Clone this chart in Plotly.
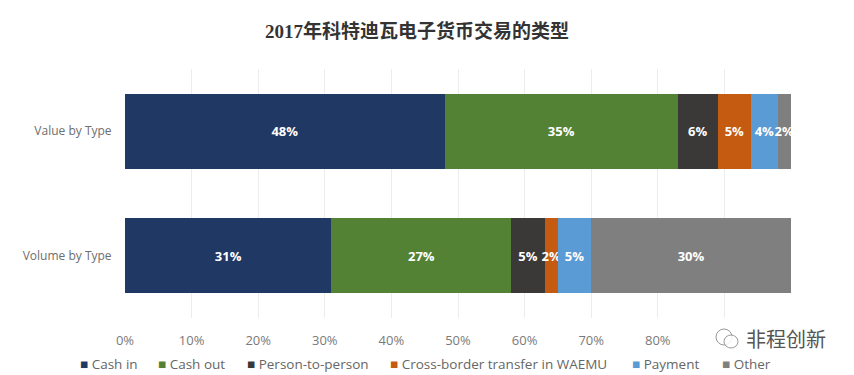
import plotly.graph_objects as go

categories = ["Value by Type", "Volume by Type"]
series_names = ["Cash in", "Cash out", "Person-to-person",
                "Cross-border transfer in WAEMU", "Payment", "Other"]
cash_in = [48, 31]
cash_out = [35, 27]
person_to_person = [6, 5]
cross_border = [5, 2]
payment = [4, 5]
other = [2, 30]
colors = ["#1f3864", "#548235", "#3b3838", "#c55a11", "#5b9bd5", "#7f7f7f"]
tick_values = [0, 10, 20, 30, 40, 50, 60, 70, 80]
tick_labels = ["0%", "10%", "20%", "30%", "40%", "50%", "60%", "70%", "80%"]
title_text = "2017年科特迪瓦电子货币交易的类型"
watermark = "非程创新"

# The page body adds an 8px margin, so the figure is 846x367 and sits at (8, 8).
W, H, OFF = 846, 367, 8
L, R, T, B = 125, 791, 69, 318   # plot area in window pixels
def px(x): return (x - L) / (R - L)
def py(y): return (B - y) / (B - T)

fig = go.Figure()
for name, vals, c in zip(series_names,
                         [cash_in, cash_out, person_to_person, cross_border, payment, other],
                         colors):
    fig.add_trace(go.Bar(
        y=categories, x=vals, name=name, orientation="h",
        marker=dict(color=c, line=dict(width=0)),
        text=[f"{v}%" for v in vals], textposition="inside",
        insidetextanchor="middle", constraintext="none", textangle=0,
        insidetextfont=dict(family="Open Sans, sans-serif", size=13, color="white", weight="bold"),
        cliponaxis=False, showlegend=False,
    ))

legend_x = [78, 156, 245, 388, 630, 720]
annotations = []
for name, c, lx in zip(series_names, colors, legend_x):
    annotations.append(dict(
        text=f'<span style="color:{c}">■</span> {name}',
        xref="paper", yref="paper", x=px(lx), y=py(364),
        xanchor="left", yanchor="middle", showarrow=False,
        font=dict(family="Open Sans, sans-serif", size=13.5, color="#666666")))
annotations.append(dict(
    text=watermark, xref="paper", yref="paper", x=px(828), y=py(338),
    xanchor="right", yanchor="middle", showarrow=False,
    font=dict(family="Noto Sans CJK SC", size=20, color="#555555")))

def circle(x0, y0, x1, y1):
    return dict(type="circle", xref="paper", yref="paper",
                x0=px(x0), x1=px(x1), y0=py(y1), y1=py(y0),
                line=dict(color="#999999", width=1), fillcolor="rgba(255,255,255,0.85)")

fig.update_layout(
    width=W, height=H, barmode="stack", bargap=0.4,
    paper_bgcolor="white", plot_bgcolor="white",
    margin=dict(l=L - OFF, r=W + OFF - R, t=T - OFF, b=H + OFF - B, autoexpand=False),
    title=dict(text=title_text, x=(417 - OFF) / W, xanchor="center", y=1 - (31 - OFF) / H, yanchor="middle",
               font=dict(family="Liberation Serif, Noto Sans CJK SC", size=19, color="#333333", weight="bold")),
    xaxis=dict(range=[0, 100], tickvals=tick_values + [90, 100], ticktext=tick_labels + ["", ""],
               showgrid=True, gridcolor="#ececec", gridwidth=1, zeroline=False,
               showline=False, ticks="outside", ticklen=10, tickcolor="white",
               tickfont=dict(family="Open Sans, sans-serif", size=13, color="#7a7a7a")),
    yaxis=dict(autorange="reversed", showgrid=False, zeroline=False, showline=False,
               ticks="outside", ticklen=10, tickcolor="white",
               tickfont=dict(family="Open Sans, sans-serif", size=12, color="#6e6e6e")),
    showlegend=False,
    annotations=annotations,
    shapes=[circle(716, 329, 732, 345), circle(724, 335, 738, 348)],
)
fig.write_html("out.html")
